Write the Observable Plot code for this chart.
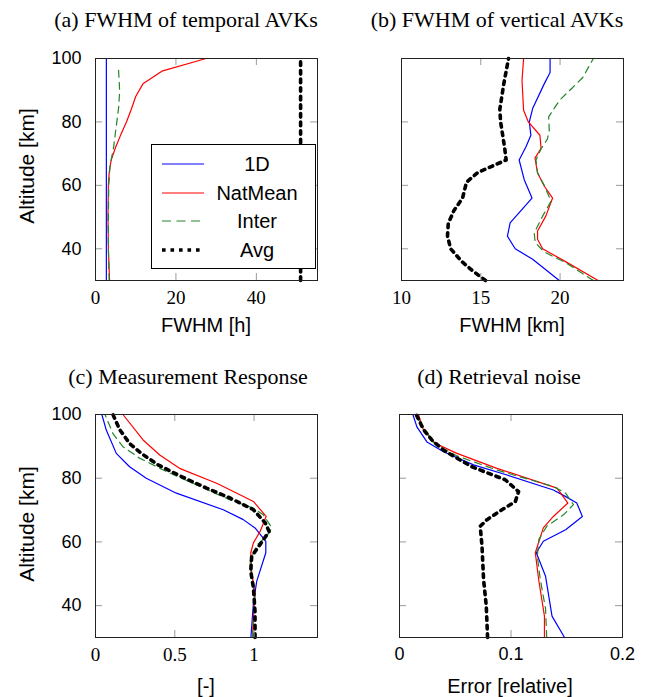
<!DOCTYPE html>
<html><head><meta charset="utf-8">
<script src="https://cdn.jsdelivr.net/npm/d3@7"></script>
<script src="https://cdn.jsdelivr.net/npm/@observablehq/plot@0.6"></script>
<style>
body{margin:0;background:#fff;}
#fig{position:relative;width:651px;height:697px;overflow:hidden;background:#fff;}
.panel{position:absolute;}
.title{position:absolute;font-family:"Liberation Serif",serif;font-size:22px;white-space:nowrap;transform:translate(-50%,-50%);color:#000;}
.xlab{position:absolute;font-family:"Liberation Sans",sans-serif;font-size:20px;white-space:nowrap;transform:translate(-50%,-50%);color:#000;}
.ylab{position:absolute;font-family:"Liberation Sans",sans-serif;font-size:21px;white-space:nowrap;transform:translate(-50%,-50%) rotate(-90deg);color:#000;}
.serifx g[aria-label="x-axis tick label"], .serifx g[aria-label="x-axis tick label"] text{font-family:"Liberation Serif",serif !important;font-size:19px !important;}
.sansx g[aria-label="x-axis tick label"], .sansx g[aria-label="x-axis tick label"] text{font-family:"Liberation Sans",sans-serif !important;font-size:18px !important;}
g[aria-label="y-axis tick label"], g[aria-label="y-axis tick label"] text{font-family:"Liberation Sans",sans-serif !important;font-size:18px !important;}
#legend{position:absolute;left:151px;top:144px;width:163px;height:123px;border:1px solid #000;background:#fff;font-family:"Liberation Sans",sans-serif;font-size:20px;}
#legend .row{position:absolute;left:0;width:163px;height:28px;}
#legend svg{position:absolute;left:9px;top:0;}
#legend span{position:absolute;left:55px;width:100px;text-align:center;top:2px;line-height:24px;}
</style></head>
<body><div id="fig"></div>
<script>
// ---------- data ----------
const seriesNames = ["1D", "NatMean", "Inter", "Avg"];
const seriesColors = ["#0000ff", "#ff0000", "#22862a", "#000000"];
const altTicks = [40, 60, 80, 100];
const titles = ["(a) FWHM of temporal AVKs", "(b) FWHM of vertical AVKs", "(c) Measurement Response", "(d) Retrieval noise"];
const xLabels = ["FWHM [h]", "FWHM [km]", "[-]", "Error [relative]"];
const yLabel = "Altitude [km]";
const xTicksA = [0, 20, 40];
const xTicksB = [10, 15, 20];
const xTicksC = [0, 0.5, 1];
const xTicksD = [0, 0.1, 0.2];

// (a) FWHM of temporal AVKs [h]
const altA_1D = [30, 40, 50, 60, 70, 80, 90, 100];
const valA_1D = [2.7, 2.7, 2.7, 2.7, 2.7, 2.7, 2.7, 2.7];
const altA_Nat = [30, 40, 50, 60, 64, 68, 72, 76, 80, 84, 88, 92, 96, 100];
const valA_Nat = [3.5, 3.2, 3.1, 3.2, 3.4, 3.9, 5, 6.3, 7.7, 8.9, 10, 11.8, 16.5, 27.5];
const altA_Inter = [30, 40, 50, 60, 66, 72, 80, 85, 90, 97];
const valA_Inter = [3.4, 3.2, 3.2, 3.3, 3.6, 4.5, 5.3, 5.8, 6.0, 5.7];
const altA_Avg = [30, 40, 50, 60, 70, 80, 90, 100];
const valA_Avg = [51, 51, 51, 51, 51, 51, 51, 51];

// (b) FWHM of vertical AVKs [km]
const altB_1D = [30, 36.7, 40, 44, 48.2, 56, 61.8, 68, 72.2, 75.8, 80, 84.2, 92, 95.6, 100];
const valB_1D = [19.95, 18.27, 17.17, 16.68, 16.85, 18.23, 17.74, 17.42, 17.85, 18.16, 18.06, 18.27, 19.0, 19.37, 19.37];
const altB_Nat = [30, 35.8, 40, 43, 45.6, 50.3, 56, 59.8, 63.9, 68.6, 71.7, 75.8, 80, 83.7, 93, 100];
const valB_Nat = [22.4, 20.4, 18.9, 18.58, 18.58, 19.1, 19.53, 19.0, 18.58, 18.42, 18.8, 18.73, 18.0, 17.7, 17.6, 17.7];
const altB_Inter = [30, 35.5, 39, 42, 45, 50.3, 55, 60, 64, 68, 71.5, 74.6, 77.4, 81.6, 86.8, 90.4, 94, 100];
const valB_Inter = [22.1, 20.4, 19.0, 18.43, 18.37, 18.9, 19.43, 19.0, 18.58, 18.48, 18.8, 19.2, 19.32, 19.28, 19.96, 20.7, 21.43, 22.1];
const altB_Avg = [30, 33, 36, 40, 44, 48, 52, 56, 61, 64, 66, 68, 72, 80, 84, 92, 100];
const valB_Avg = [15.3, 14.5, 13.8, 13.1, 12.9, 12.95, 13.3, 13.85, 14.1, 14.8, 15.7, 16.6, 16.5, 16.25, 16.2, 16.45, 16.75];

// (c) Measurement response [-]
const altC_1D = [30, 41, 47.7, 56.6, 60.2, 64.4, 67, 70.1, 75.3, 80, 83.6, 87.8, 95.1, 100];
const valC_1D = [0.98, 0.996, 1.017, 1.074, 1.074, 1.006, 0.932, 0.806, 0.51, 0.32, 0.215, 0.131, 0.068, 0.04];
const altC_Nat = [30, 37, 44, 50.3, 56.6, 59.7, 63.3, 68, 72.7, 78.4, 83.1, 87.3, 92, 100];
const valC_Nat = [0.99, 0.996, 1.006, 0.985, 0.979, 0.996, 1.038, 1.076, 0.996, 0.764, 0.53, 0.405, 0.30, 0.173];
const altC_Inter = [30, 43, 48, 54, 59, 61.8, 64.4, 68.5, 70.6, 73.2, 77.9, 82.1, 86.3, 89.9, 94, 100];
const valC_Inter = [0.99, 1.006, 0.985, 0.975, 1.017, 1.08, 1.112, 1.059, 0.996, 0.848, 0.637, 0.447, 0.278, 0.173, 0.11, 0.06];
const altC_Avg = [30, 38, 45.6, 50.8, 55.5, 60.7, 63.3, 66, 70.1, 73.8, 76.9, 80.5, 84.2, 87.8, 90.9, 95.3, 100];
const valC_Avg = [1.006, 1.006, 0.996, 0.979, 0.985, 1.059, 1.095, 1.07, 0.996, 0.848, 0.70, 0.542, 0.394, 0.289, 0.215, 0.152, 0.11];

// (d) Retrieval noise [relative]
const altD_1D = [30, 36.7, 49.2, 56.6, 60.2, 63.8, 68, 72.2, 74.3, 76.3, 81, 84.2, 88.3, 91.4, 96.1, 100];
const valD_1D = [0.148, 0.1368, 0.131, 0.1227, 0.129, 0.149, 0.164, 0.159, 0.1487, 0.138, 0.0964, 0.0664, 0.0395, 0.0246, 0.0156, 0.012];
const altD_Nat = [30, 36.7, 48.2, 56.6, 64.4, 68, 72.2, 76.9, 83.1, 87.8, 91, 95.1, 100];
const valD_Nat = [0.13, 0.13, 0.1248, 0.1218, 0.129, 0.138, 0.151, 0.1413, 0.0874, 0.0515, 0.032, 0.0215, 0.017];
const altD_Inter = [30, 39, 48.2, 55.5, 60.8, 64.9, 68.5, 71.7, 75.3, 77.4, 82.6, 87, 91, 100];
const valD_Inter = [0.132, 0.131, 0.1263, 0.1236, 0.125, 0.132, 0.147, 0.156, 0.149, 0.138, 0.087, 0.0515, 0.031, 0.014];
const altD_Avg = [30, 40, 48.2, 58.6, 64.9, 67, 70.1, 72.7, 75.8, 79.5, 81.5, 83.6, 86.3, 88.8, 92, 95.3, 100];
const valD_Avg = [0.079, 0.0778, 0.0754, 0.074, 0.0724, 0.0785, 0.0919, 0.1039, 0.1068, 0.0949, 0.08, 0.065, 0.0515, 0.0395, 0.029, 0.0215, 0.015];

// ---------- helpers ----------
const styles = [
  {strokeWidth: 1.2},
  {strokeWidth: 1.2},
  {strokeWidth: 1.2, strokeDasharray: "7,5"},
  {strokeWidth: 3.6, strokeDasharray: "3.6,5"}
];
function rows(alts, vals) { return alts.map((a, i) => ({alt: a, v: vals[i]})); }
const fmt = d => String(d);

const fig = document.getElementById("fig");

function panel(cfg) {
  const {left, top, width, height, ml, mr, mt, mb, xDomain, xTicks, xFont, showY, data} = cfg;
  const fw = width - ml - mr, fh = height - mt - mb;
  const tickLen = 7, tickCol = "#9a9a9a";
  const marks = [];
  data.forEach((d, i) => {
    marks.push(Plot.line(rows(d[0], d[1]), {x: "v", y: "alt", stroke: seriesColors[i], ...styles[i]}));
  });
  marks.push(
    Plot.ruleX(xTicks, {x: d => d, stroke: tickCol, insetTop: fh - tickLen}),
    Plot.ruleX(xTicks, {x: d => d, stroke: tickCol, insetBottom: fh - tickLen}),
    Plot.ruleY(altTicks, {y: d => d, stroke: tickCol, insetRight: fw - tickLen}),
    Plot.ruleY(altTicks, {y: d => d, stroke: tickCol, insetLeft: fw - tickLen}),
    Plot.frame({stroke: "#222", strokeWidth: 1}),
    Plot.axisX(xTicks, {tickSize: 0, tickPadding: 10, tickFormat: fmt,
      fontSize: xFont === "serif" ? 19 : 18,
      fontFamily: xFont === "serif" ? "Liberation Serif" : "Liberation Sans", label: null})
  );
  if (showY) marks.push(Plot.axisY(altTicks, {tickSize: 0, tickPadding: 14, tickFormat: fmt, fontSize: 18, fontFamily: "Liberation Sans", label: null}));
  const svg = Plot.plot({
    width, height, marginLeft: ml, marginRight: mr, marginTop: mt, marginBottom: mb,
    className: xFont === "serif" ? "serifx" : "sansx",
    x: {domain: xDomain, axis: null},
    y: {domain: [30, 100], axis: null},
    style: {background: "transparent", color: "#000"},
    marks
  });
  svg.classList.add(xFont === "serif" ? "serifx" : "sansx");
  const div = document.createElement("div");
  div.className = "panel " + (xFont === "serif" ? "serifx" : "sansx");
  div.style.left = left + "px";
  div.style.top = top + "px";
  div.appendChild(svg);
  fig.appendChild(div);
}

panel({left: 0, top: 0, width: 330, height: 340, ml: 95, mr: 13, mt: 58, mb: 60,
  xDomain: [0, 55.2], xTicks: xTicksA, xFont: "serif", showY: true,
  data: [[altA_1D, valA_1D], [altA_Nat, valA_Nat], [altA_Inter, valA_Inter], [altA_Avg, valA_Avg]]});
panel({left: 330, top: 0, width: 321, height: 340, ml: 71, mr: 28, mt: 58, mb: 60,
  xDomain: [10, 24], xTicks: xTicksB, xFont: "serif", showY: false,
  data: [[altB_1D, valB_1D], [altB_Nat, valB_Nat], [altB_Inter, valB_Inter], [altB_Avg, valB_Avg]]});
panel({left: 0, top: 350, width: 330, height: 347, ml: 95, mr: 13, mt: 64, mb: 60,
  xDomain: [0, 1.4], xTicks: xTicksC, xFont: "serif", showY: true,
  data: [[altC_1D, valC_1D], [altC_Nat, valC_Nat], [altC_Inter, valC_Inter], [altC_Avg, valC_Avg]]});
panel({left: 330, top: 350, width: 321, height: 347, ml: 69, mr: 29, mt: 64, mb: 60,
  xDomain: [0, 0.2], xTicks: xTicksD, xFont: "sans", showY: false,
  data: [[altD_1D, valD_1D], [altD_Nat, valD_Nat], [altD_Inter, valD_Inter], [altD_Avg, valD_Avg]]});

// titles & axis labels
const titlePos = [[186, 20], [497, 20], [188, 377], [499, 377]];
titles.forEach((t, i) => {
  const d = document.createElement("div"); d.className = "title"; d.textContent = t;
  d.style.left = titlePos[i][0] + "px"; d.style.top = titlePos[i][1] + "px"; fig.appendChild(d);
});
const xlabPos = [[206, 325], [512, 325], [206, 686], [510, 686]];
xLabels.forEach((t, i) => {
  const d = document.createElement("div"); d.className = "xlab"; d.textContent = t;
  d.style.left = xlabPos[i][0] + "px"; d.style.top = xlabPos[i][1] + "px"; fig.appendChild(d);
});
[[27, 166], [27, 524]].forEach(p => {
  const d = document.createElement("div"); d.className = "ylab"; d.textContent = yLabel;
  d.style.left = p[0] + "px"; d.style.top = p[1] + "px"; fig.appendChild(d);
});

// legend (panel a)
const legend = document.createElement("div");
legend.id = "legend";
const rowTops = [5, 34, 62, 91];
seriesNames.forEach((name, i) => {
  const r = document.createElement("div"); r.className = "row"; r.style.top = rowTops[i] + "px";
  const st = styles[i];
  r.innerHTML = `<svg width="44" height="28"><line x1="1" x2="43" y1="14" y2="14" stroke="${seriesColors[i]}" stroke-width="${st.strokeWidth}" ${st.strokeDasharray ? `stroke-dasharray="${i === 2 ? "9,5.5" : "3.6,4.9"}"` : ""}/></svg><span>${name}</span>`;
  legend.appendChild(r);
});
fig.appendChild(legend);
</script>
</body></html>
